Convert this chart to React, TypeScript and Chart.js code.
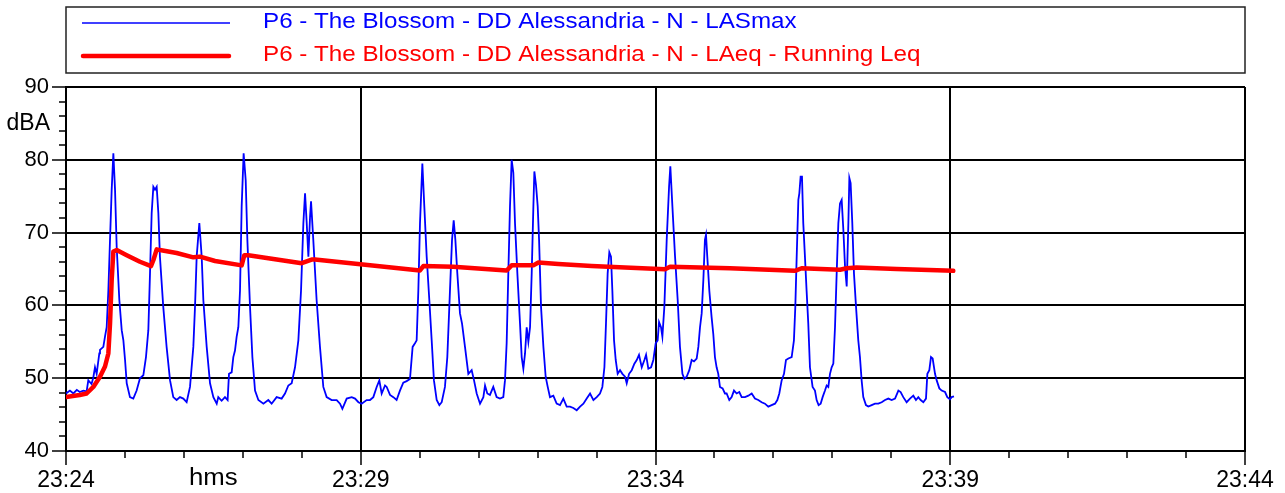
import React, { useEffect, useRef } from 'react';
import { Chart, registerables } from 'chart.js';

Chart.register(...registerables);

const FONT = '"Liberation Sans", Arial, Helvetica, sans-serif';

const seriesNames = [
  'P6 - The Blossom - DD Alessandria - N - LASmax',
  'P6 - The Blossom - DD Alessandria - N - LAeq - Running Leq',
];
const xTickLabels = ['23:24', '23:29', '23:34', '23:39', '23:44'];
const xAxisTitle = 'hms';
const yAxisTitle = 'dBA';

// seconds after 23:24:00
const lasMaxTimes = [
  0, 4, 7.5, 11, 14, 17.6, 21, 22.7, 26, 27.8, 29.5, 31.2, 33.9, 34.6, 38, 39.7, 41.4, 43.1, 44.8, 46.5,
  48.2, 49.9, 51.6, 54.3, 56.7, 58.4, 60.1, 61.8, 65.1, 68.5, 71.9, 75.3, 78.7, 81.4, 83.8, 85.5, 87.2, 88.9, 90.6, 92.3,
  94, 95.6, 99, 102.4, 105.9, 109.2, 112.6, 116, 119.4, 122.8, 126.2, 129.6, 131.3, 133, 135.7, 138.1, 139.8, 143.2, 146.6, 150,
  153.4, 155, 158.4, 161.8, 164.5, 165.9, 168.6, 170.3, 172, 173.7, 175.4, 177.1, 178.8, 180.8, 182.9, 184.6, 187.3, 189.7, 192.4, 195.8,
  200.9, 205.9, 209.3, 214.4, 219.5, 222.9, 226.3, 229.7, 233.1, 236.5, 239.2, 241.6, 243.3, 245, 246.7, 248.4, 249.4, 251.7, 255.1, 258.5,
  261.9, 265.3, 270.4, 275.5, 278.9, 281.3, 285.7, 290.8, 294.2, 297.6, 300.9, 306, 309.4, 312.8, 316.2, 318.9, 321.3, 324.7, 326.4, 329.8,
  333.2, 336.5, 339.9, 343.3, 346.7, 350.1, 352.8, 355.2, 356.9, 358.6, 360.3, 362.7, 364.7, 367.1, 369.8, 372.2, 374.5, 377.3, 380, 382.4,
  385.7, 388.1, 390.8, 392.9, 394.6, 396.3, 398.3, 401, 403.1, 406.1, 409.5, 412.9, 415.3, 418, 421.4, 424.8, 426.5, 428.8, 431.5, 434.9,
  438.3, 441.7, 445.1, 446.8, 448.5, 450.2, 451.9, 453.6, 455.3, 457, 459.4, 462.1, 463.8, 465.5, 467.2, 468.9, 470.6, 472.3, 474, 475.7,
  476.7, 478.4, 480.1, 481.5, 483.5, 485.9, 488.2, 490.3, 492.6, 496, 499.4, 502.8, 506.2, 509.6, 513, 516.4, 519.8, 523.2, 526.6, 530,
  533.4, 536.8, 540.2, 543.5, 545.9, 548, 549.6, 551.3, 553, 554.7, 556.1, 557.8, 559.5, 561.5, 563.9, 566.3, 569, 570.7, 573.1, 575.8,
  578.5, 580.9, 583.2, 586, 588.7, 590.4, 592.7, 595.5, 597.8, 600.2, 602.2, 603.6, 605.6, 607, 609, 611.4, 613.8, 615.1, 617.2, 619.9,
  622.6, 624.9, 627.4, 629.4, 631.7, 634.4, 636.8, 639.2, 641.9, 643.6, 645.3, 647, 648.7, 650.3, 651.4, 652.7, 654.8, 657.1, 658.8, 660.5,
  662.2, 663.9, 665.6, 668.3, 670.7, 672.4, 675.1, 677.5, 679.9, 682.6, 685.3, 687.7, 691.1, 694.5, 697.9, 701.2, 704.6, 708, 711.4, 714.8,
  718.2, 721.6, 724, 726, 728.4, 730.8, 732.8, 735.2, 738.6, 740.9, 742.3, 743.7, 745.4, 746.4, 747.7, 749.1, 750.4, 752.1, 753.8, 755.5,
  757.2, 759.9, 762.3, 764, 766, 768.1, 770.1, 772.5, 774.2, 775.9, 777.6, 779.3, 781, 782.7, 784.4, 786.1, 787.8, 789.5, 791.2, 792.9,
  794.6, 796.3, 797.3, 798.6, 800.3, 802, 804.1, 806.4, 808.1, 809.8, 811.5, 814.2, 816.6, 820, 823.4, 826.8, 830.2, 833.6, 837, 840.4,
  843.8, 847.2, 849.5, 852.2, 855.6, 859, 862.4, 865.1, 867.5, 869.9, 872.6, 875.3, 876.7, 878.7, 880.4, 882.1, 884.5, 886.2, 888.9, 891.3,
  894.7, 897, 899.7, 901.4, 903.8,
];

const lasMaxValues = [
  47.9, 48.3, 47.9, 48.4, 48.1, 48.3, 48.2, 49.7, 49.2, 50.1, 51.5, 50.6, 53.4, 53.9, 54.3, 55.7, 57, 62, 69, 75.9,
  80.9, 75.9, 68, 60.7, 56.6, 55.2, 52.5, 49.3, 47.4, 47.2, 48.3, 50, 50.4, 52.9, 56.6, 64.4, 72.7, 76.3, 75.9, 76.3,
  72.7, 66.7, 59.8, 54.3, 49.7, 47.4, 47, 47.4, 47.2, 46.7, 48.8, 54.3, 59.8, 66.7, 71.3, 66.7, 60.7, 54.3, 49.3, 47.4,
  46.5, 47.4, 46.9, 47.4, 47, 50.6, 50.8, 52.9, 53.8, 55.7, 57, 62, 73.6, 80.9, 77.2, 69, 59.8, 52.9, 48.3, 47,
  46.5, 47, 46.5, 47.4, 47.2, 47.9, 49, 49.3, 51.5, 55.2, 62, 71.3, 75.4, 71.3, 66.7, 72.2, 74.3, 69, 60.7, 54.3,
  48.8, 47.4, 47, 47, 46.5, 45.8, 47.2, 47.4, 47.2, 46.7, 46.5, 47, 47, 47.4, 48.8, 49.7, 47.9, 49, 48.8, 47.7,
  47.4, 47, 48.3, 49.4, 49.6, 49.9, 54.3, 54.8, 55.2, 62, 71.3, 79.5, 73.6, 66.7, 60.7, 55.2, 49.7, 47, 46.3, 46.7,
  48.8, 52.9, 62, 69, 71.7, 69, 64.4, 58.9, 57.5, 54.3, 50.6, 51.1, 49.7, 47.9, 46.5, 47.4, 49, 47.9, 47.7, 48.8,
  47.4, 47.2, 47.4, 49.7, 54.8, 64.4, 73.6, 80, 78.2, 71.3, 64.4, 57.5, 52.9, 51.3, 53.4, 57, 55, 57, 64.4, 73.6,
  78.4, 76.5, 73.6, 69, 59.8, 54.3, 50.2, 48.8, 47.4, 47.6, 46.5, 46.3, 47.2, 46.1, 46.1, 45.9, 45.6, 46.1, 46.5, 47.2,
  47.9, 47, 47.4, 47.9, 48.8, 51.5, 57.5, 64.4, 67.3, 66.7, 62, 55.2, 52.5, 50.6, 51.1, 50.6, 50.2, 49.3, 50.6, 51.1,
  52, 52.5, 53.2, 51.5, 52.5, 53.2, 51.3, 51.5, 52.5, 54.8, 55.2, 57.7, 57, 55.7, 59.8, 69, 76.3, 79.1, 73.6, 66.7,
  60.7, 54.3, 50.6, 49.9, 50.2, 51.1, 52.5, 52.3, 52.7, 54.3, 57, 58.9, 63.5, 69, 69.7, 66.7, 62, 58.4, 56.1, 52.9,
  51.5, 50.6, 48.8, 48.6, 47.9, 47.9, 47, 47.4, 48.3, 47.9, 48.1, 47.4, 47.4, 47.6, 47.9, 47.2, 47, 46.7, 46.5, 46.1,
  46.3, 46.5, 47, 47.9, 49.7, 50.6, 52.5, 52.7, 52.9, 55.2, 59.8, 66.7, 74.5, 75.4, 77.7, 77.7, 71.3, 66.7, 62, 57.5,
  51.5, 48.8, 48.3, 47, 46.3, 46.5, 47.4, 48.3, 49, 48.8, 50.6, 51.5, 52, 57, 64.4, 71.3, 74, 74.5, 70.4, 65.3,
  62.6, 71.3, 77.5, 76.8, 71.3, 64.4, 59.8, 55.2, 52.9, 49.7, 47.4, 46.3, 46.1, 46.3, 46.5, 46.5, 46.7, 47, 47.2, 47,
  47.2, 48.3, 48.1, 47.4, 46.7, 47.2, 47.6, 47, 47.4, 47, 46.7, 47.2, 50.6, 51.1, 52.9, 52.7, 50.6, 49.7, 48.6, 48.3,
  48.1, 47.4, 47.1, 47.4, 47.5,
];

const leqTimes = [
  0, 14, 21, 27.8, 34.6, 39.7, 43.1, 44.8, 46.5, 48.2, 51.6, 61.8, 75.3, 86.5, 88.9, 92.3, 95.6, 112.6, 129.6, 136.4,
  151.7, 178.8, 181.5, 185.6, 239.9, 250, 253.4, 309.4, 360.3, 363.7, 394.2, 448.5, 453.6, 475.7, 480.8, 501.1, 535, 569, 609.7, 614.8,
  675.8, 742, 748.7, 787.8, 794.6, 804.7, 845.5, 903.1,
];

const leqValues = [
  47.4, 47.7, 47.9, 48.8, 50.2, 51.6, 53.4, 57.5, 63.5, 67.4, 67.6, 66.9, 66, 65.4, 66.2, 67.7, 67.6, 67.2, 66.6, 66.7,
  66.1, 65.5, 66.9, 66.9, 65.8, 66.3, 66.3, 65.5, 64.8, 65.4, 65.3, 64.8, 65.5, 65.5, 65.9, 65.7, 65.4, 65.2, 64.95, 65.3,
  65.1, 64.75, 65.1, 64.9, 65.1, 65.2, 65, 64.75,
];

const X_MIN = 0;
const X_MAX = 1200;
const Y_MIN = 40;
const Y_MAX = 90;

const decorPlugin = {
  id: 'decor',
  beforeDraw(chart: any) {
    const ctx = chart.ctx;
    ctx.save();
    ctx.fillStyle = '#ffffff';
    ctx.fillRect(0, 0, chart.width, chart.height);
    ctx.restore();
  },
  afterDraw(chart: any) {
    const ctx = chart.ctx;
    const xs = chart.scales.x;
    const ys = chart.scales.y;
    const area = chart.chartArea;
    ctx.save();
    // minor ticks
    ctx.strokeStyle = '#000';
    ctx.lineWidth = 1.5;
    for (let t = 60; t < X_MAX; t += 60) {
      if (t % 300 === 0) continue;
      const px = Math.round(xs.getPixelForValue(t));
      ctx.beginPath();
      ctx.moveTo(px, area.bottom);
      ctx.lineTo(px, area.bottom + 7);
      ctx.stroke();
    }
    for (let v = Y_MIN + 2; v < Y_MAX; v += 2) {
      if (v % 10 === 0) continue;
      const py = Math.round(ys.getPixelForValue(v));
      ctx.beginPath();
      ctx.moveTo(area.left - 7, py);
      ctx.lineTo(area.left, py);
      ctx.stroke();
    }
    // legend box
    ctx.strokeStyle = '#222';
    ctx.lineWidth = 1.5;
    ctx.strokeRect(area.left, 7, area.right - area.left, 66);
    // legend lines
    ctx.strokeStyle = '#0000ff';
    ctx.lineWidth = 1.5;
    ctx.beginPath();
    ctx.moveTo(82, 23);
    ctx.lineTo(230, 23);
    ctx.stroke();
    ctx.strokeStyle = '#ff0000';
    ctx.lineWidth = 4.5;
    ctx.lineCap = 'round';
    ctx.beginPath();
    ctx.moveTo(83, 56);
    ctx.lineTo(229, 56);
    ctx.stroke();
    // legend texts
    ctx.font = `21.5px ${FONT}`;
    ctx.textBaseline = 'middle';
    ctx.textAlign = 'left';
    const colors = ['#0000ff', '#ff0000'];
    const ys2 = [22, 55];
    for (let i = 0; i < 2; i++) {
      ctx.save();
      ctx.fillStyle = colors[i];
      ctx.translate(263, ys2[i]);
      ctx.scale(1.125, 1);
      ctx.fillText(seriesNames[i], 0, 0);
      ctx.restore();
    }
    // axis titles
    ctx.fillStyle = '#000';
    ctx.font = `23px ${FONT}`;
    ctx.textAlign = 'right';
    ctx.textBaseline = 'middle';
    ctx.fillText(yAxisTitle, 50, ys.getPixelForValue(85));
    ctx.textAlign = 'center';
    ctx.save();
    ctx.translate(xs.getPixelForValue(150), 479);
    ctx.scale(1.12, 1);
    ctx.fillText(xAxisTitle, 0, 0);
    ctx.restore();
    ctx.restore();
  },
};

export default function App() {
  const canvasRef = useRef<HTMLCanvasElement | null>(null);

  useEffect(() => {
    const canvas = canvasRef.current;
    if (!canvas) return;
    const blueData = lasMaxTimes.map((t, i) => ({ x: t, y: lasMaxValues[i] }));
    const redData = leqTimes.map((t, i) => ({ x: t, y: leqValues[i] }));

    const chart = new Chart(canvas, {
      type: 'line',
      data: {
        datasets: [
          {
            label: seriesNames[1],
            data: redData,
            borderColor: '#ff0000',
            backgroundColor: '#ff0000',
            borderWidth: 4.5,
            pointRadius: 0,
            tension: 0,
            order: 1,
            borderJoinStyle: 'round',
            borderCapStyle: 'round',
          },
          {
            label: seriesNames[0],
            data: blueData,
            borderColor: '#0000ff',
            backgroundColor: '#0000ff',
            borderWidth: 1.8,
            pointRadius: 0,
            tension: 0,
            order: 2,
          },
        ],
      },
      options: {
        animation: false,
        responsive: false,
        maintainAspectRatio: false,
        parsing: true,
        layout: { padding: { top: 87, right: 40, left: 0, bottom: 0 } },
        plugins: {
          legend: { display: false },
          tooltip: { enabled: false },
          title: { display: false },
        },
        scales: {
          x: {
            type: 'linear',
            min: X_MIN,
            max: X_MAX,
            afterBuildTicks: (scale: any) => {
              const ticks = [];
              for (let t = X_MIN; t <= X_MAX; t += 60) ticks.push({ value: t });
              scale.ticks = ticks;
            },
            afterFit: (scale: any) => {
              scale.height = 42;
            },
            border: { display: true, color: '#000', width: 2 },
            grid: {
              color: (c: any) => (c.tick && c.tick.value % 300 === 0 ? '#000' : 'rgba(0,0,0,0)'),
              lineWidth: 2,
              tickColor: (c: any) => (c.tick && c.tick.value % 300 === 0 ? '#000' : 'rgba(0,0,0,0)'),
              tickLength: 14,
              tickWidth: 1.5,
              drawTicks: true,
            },
            ticks: {
              autoSkip: false,
              maxRotation: 0,
              minRotation: 0,
              padding: 2,
              color: '#000',
              font: { family: FONT, size: 23 },
              callback: (v: any) => (Number(v) % 300 === 0 ? xTickLabels[Number(v) / 300] : ''),
            },
          },
          y: {
            type: 'linear',
            min: Y_MIN,
            max: Y_MAX,
            afterFit: (scale: any) => {
              scale.width = 66;
            },
            border: { display: true, color: '#000', width: 2 },
            grid: {
              color: (c: any) => (c.tick && c.tick.value % 10 === 0 ? '#000' : 'rgba(0,0,0,0)'),
              lineWidth: 2,
              tickColor: (c: any) => (c.tick && c.tick.value % 10 === 0 ? '#000' : 'rgba(0,0,0,0)'),
              tickLength: 14,
              tickWidth: 1.5,
            },
            ticks: {
              stepSize: 2,
              autoSkip: false,
              padding: 3,
              color: '#000',
              font: { family: FONT, size: 22 },
              callback: (v: any) => (Number(v) % 10 === 0 ? String(v) : ''),
            },
          },
        },
      },
      plugins: [decorPlugin],
    });
    return () => chart.destroy();
  }, []);

  return (
    <div style={{ position: 'absolute', left: 0, top: 0, width: 1285, height: 493, background: '#fff' }}>
      <canvas ref={canvasRef} width={1285} height={493} style={{ display: 'block' }} />
    </div>
  );
}
